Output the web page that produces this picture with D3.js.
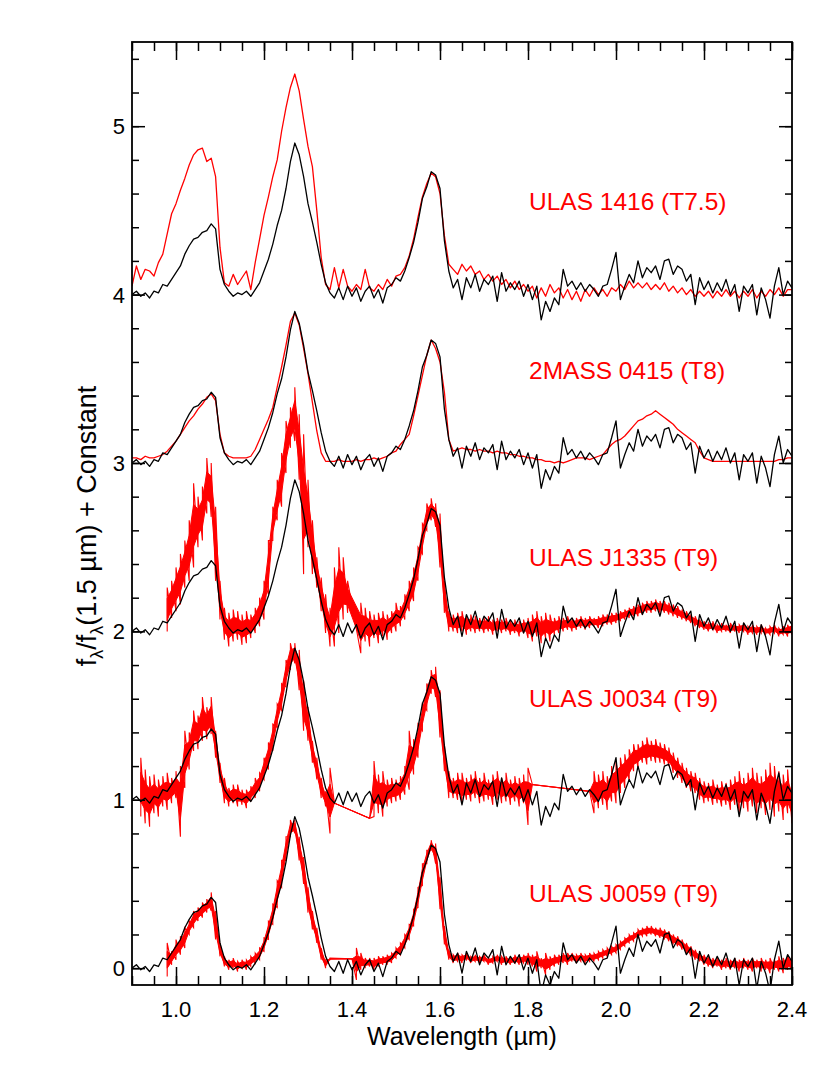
<!DOCTYPE html>
<html>

<head>
  <title>T dwarf spectra</title>
  <script src="https://cdn.jsdelivr.net/npm/d3@7"></script>
  <style>
    html, body { margin: 0; padding: 0; background: #fff; overflow: hidden; }
    svg { display: block; }
    text { font-family: 'Liberation Sans', Arial, Helvetica, sans-serif; }
  </style>
</head>

<body>
  <svg width="830" height="1069" id="mainsvg"></svg>
  <script>
    // wavelength grid of every spectrum, 0.90 .. 2.40 micron in 0.01 steps
    const wave = d3.range(151).map(i => Math.round(900 + i * 10) / 1000);

    // comparison template (black), normalised at 1.5 micron, no offset
    const templateFlux = [
      0.00, 0.02, -0.01, 0.01, -0.02, 0.02, 0.01, 0.06, 0.05, 0.09,
      0.13, 0.17, 0.24, 0.29, 0.33, 0.34, 0.37, 0.38, 0.42, 0.39,
      0.15, 0.06, 0.02, -0.01, 0.01, 0.00, 0.02, -0.01, 0.03, 0.07,
      0.14, 0.21, 0.30, 0.41, 0.50, 0.63, 0.79, 0.90, 0.83, 0.70,
      0.54, 0.43, 0.31, 0.18, 0.07, 0.01, -0.02, 0.04, -0.03, 0.05,
      -0.01, 0.04, -0.04, 0.02, 0.05, -0.02, 0.03, -0.05, 0.04, 0.06,
      0.10, 0.08, 0.14, 0.22, 0.31, 0.43, 0.57, 0.64, 0.73, 0.71,
      0.63, 0.32, 0.14, 0.04, 0.09, -0.03, 0.10, 0.04, 0.12, 0.02,
      0.09, 0.06, 0.11, -0.04, 0.13, 0.02, 0.07, 0.03, 0.08, -0.01,
      0.06, -0.03, 0.05, -0.15, -0.04, -0.10, -0.02, -0.06, 0.15, 0.05,
      0.08, 0.03, 0.07, 0.02, 0.06, 0.03, -0.01, 0.05, 0.06, 0.15,
      0.25, -0.03, 0.05, 0.12, 0.07, 0.20, 0.10, 0.16, 0.13, 0.17,
      0.09, 0.20, 0.21, 0.12, 0.17, 0.15, 0.08, 0.12, -0.06, 0.10,
      0.03, 0.08, 0.01, 0.07, 0.02, 0.09, 0.00, 0.06, -0.10, 0.05,
      0.01, 0.06, -0.12, 0.04, -0.03, -0.14, 0.05, 0.16, 0.00, 0.08,
      0.04
    ];

    // ULAS 1416 (T7.5)
    const ulas1416Flux = [
      0.05, 0.17, 0.09, 0.15, 0.14, 0.11, 0.19, 0.24, 0.36, 0.48,
      0.54, 0.62, 0.69, 0.77, 0.83, 0.86, 0.87, 0.79, 0.81, 0.70,
      0.28, 0.07, 0.05, 0.12, 0.06, 0.10, 0.14, 0.03, 0.19, 0.33,
      0.47, 0.58, 0.70, 0.80, 0.97, 1.11, 1.23, 1.31, 1.21, 1.04,
      0.88, 0.76, 0.50, 0.22, 0.06, 0.03, 0.16, 0.04, 0.15, 0.05,
      0.02, 0.06, 0.03, 0.15, 0.04, 0.02, 0.06, 0.03, 0.09, 0.05,
      0.11, 0.12, 0.16, 0.23, 0.33, 0.46, 0.58, 0.66, 0.72, 0.70,
      0.60, 0.35, 0.18, 0.15, 0.12, 0.18, 0.14, 0.17, 0.12, 0.14,
      0.09, 0.12, 0.08, 0.11, 0.06, 0.09, 0.04, 0.08, 0.03, 0.06,
      0.02, 0.05, -0.02, 0.04, -0.01, 0.06, 0.01, 0.04, -0.02, 0.03,
      -0.03, 0.02, -0.04, 0.03, -0.01, 0.04, 0.00, 0.03, -0.01, 0.04,
      0.02, 0.06, 0.03, 0.08, 0.04, 0.07, 0.04, 0.07, 0.03, 0.06,
      0.03, 0.07, 0.02, 0.05, 0.01, 0.04, 0.00, 0.03, -0.01, 0.02,
      -0.01, 0.02, -0.02, 0.02, -0.01, 0.03, -0.01, 0.02, -0.02, 0.02,
      -0.01, 0.03, -0.02, 0.02, -0.01, 0.03, 0.00, 0.04, -0.01, 0.03,
      0.03
    ];

    // 2MASS 0415 (T8)
    const mass0415Flux = [
      0.03, 0.03, 0.02, 0.04, 0.03, 0.03, 0.04, 0.05, 0.07, 0.10,
      0.13, 0.17, 0.21, 0.25, 0.28, 0.32, 0.35, 0.39, 0.41, 0.37,
      0.17, 0.06, 0.04, 0.03, 0.03, 0.03, 0.03, 0.04, 0.08, 0.14,
      0.20, 0.26, 0.33, 0.45, 0.57, 0.70, 0.84, 0.89, 0.82, 0.68,
      0.53, 0.36, 0.19, 0.06, 0.01, 0.01, 0.01, 0.02, 0.01, 0.01,
      0.01, 0.02, 0.01, 0.02, 0.02, 0.03, 0.02, 0.03, 0.04, 0.06,
      0.07, 0.11, 0.14, 0.17, 0.28, 0.40, 0.52, 0.64, 0.73, 0.68,
      0.60, 0.42, 0.14, 0.07, 0.08, 0.09, 0.08, 0.08, 0.07, 0.08,
      0.07, 0.07, 0.06, 0.07, 0.06, 0.06, 0.05, 0.05, 0.04, 0.04,
      0.03, 0.03, 0.02, 0.02, 0.01, 0.01, 0.00, 0.01, 0.00, 0.01,
      0.02, 0.03, 0.03, 0.03, 0.02, 0.03, 0.04, 0.05, 0.08, 0.11,
      0.13, 0.14, 0.16, 0.19, 0.22, 0.25, 0.26, 0.28, 0.29, 0.31,
      0.29, 0.27, 0.25, 0.23, 0.20, 0.18, 0.16, 0.14, 0.12, 0.07,
      0.03, 0.02, 0.01, 0.01, 0.01, 0.01, 0.01, 0.01, 0.01, 0.01,
      0.01, 0.01, 0.01, 0.01, 0.01, 0.01, 0.01, 0.02, 0.02, 0.03,
      0.03
    ];

    // noisy spectra: lower / upper edge of the scatter, null = no data
    const j1335Lo = [
      null, null, null, null, null, null, null, null, 0.00, 0.08,
      0.12, 0.16, 0.26, 0.30, 0.38, 0.50, 0.54, 0.70, 0.68, 0.30,
      0.07, -0.05, -0.09, -0.06, -0.05, -0.08, -0.07, -0.04, -0.01, 0.03,
      0.07, 0.22, 0.54, 0.66, 0.74, 0.94, 1.09, 1.13, 0.90, 0.34,
      0.50, 0.34, 0.26, 0.12, -0.01, -0.09, -0.09, -0.01, 0.07, 0.11,
      null, null, -0.13, -0.06, -0.09, -0.04, -0.07, -0.03, -0.05, -0.01,
      0.00, 0.03, 0.07, 0.12, 0.18, 0.30, 0.46, 0.60, 0.66, 0.62,
      0.38, 0.11, 0.00, 0.00, -0.01, 0.00, -0.02, 0.00, -0.01, 0.00,
      -0.01, 0.00, -0.02, 0.00, -0.01, 0.00, -0.02, -0.01, -0.03, -0.01,
      -0.04, -0.06, -0.03, -0.07, -0.04, -0.06, -0.02, -0.01, 0.00, 0.01,
      0.00, 0.01, 0.02, 0.01, 0.02, 0.03, 0.02, 0.03, 0.04, 0.04,
      0.05, 0.06, 0.07, 0.08, 0.09, 0.09, 0.10, 0.11, 0.11, 0.12,
      0.11, 0.11, 0.10, 0.09, 0.08, 0.07, 0.06, 0.05, 0.03, 0.02,
      0.01, 0.00, 0.01, -0.01, 0.00, 0.00, -0.01, 0.00, -0.01, 0.00,
      -0.02, -0.01, -0.02, -0.01, -0.02, -0.02, -0.01, -0.03, -0.02, -0.03,
      -0.02
    ];
    const j1335Hi = [
      null, null, null, null, null, null, null, null, 0.26, 0.30,
      0.38, 0.46, 0.54, 0.66, 0.88, 0.80, 0.86, 1.03, 1.00, 0.74,
      0.30, 0.14, 0.11, 0.13, 0.12, 0.10, 0.12, 0.10, 0.14, 0.20,
      0.30, 0.54, 0.74, 0.90, 1.06, 1.25, 1.33, 1.45, 1.29, 1.17,
      0.90, 0.66, 0.44, 0.32, 0.22, 0.14, 0.38, 0.50, 0.44, 0.30,
      null, null, 0.17, 0.14, 0.12, 0.10, 0.11, 0.12, 0.10, 0.12,
      0.17, 0.15, 0.22, 0.30, 0.38, 0.50, 0.64, 0.76, 0.79, 0.76,
      0.70, 0.30, 0.12, 0.10, 0.11, 0.12, 0.09, 0.10, 0.09, 0.08,
      0.08, 0.09, 0.07, 0.08, 0.07, 0.08, 0.06, 0.07, 0.06, 0.07,
      0.08, 0.10, 0.12, 0.09, 0.11, 0.10, 0.08, 0.09, 0.08, 0.09,
      0.08, 0.08, 0.09, 0.08, 0.09, 0.08, 0.09, 0.10, 0.10, 0.11,
      0.11, 0.12, 0.13, 0.14, 0.15, 0.16, 0.17, 0.18, 0.18, 0.19,
      0.18, 0.18, 0.17, 0.16, 0.15, 0.13, 0.12, 0.10, 0.09, 0.07,
      0.06, 0.05, 0.06, 0.04, 0.05, 0.04, 0.05, 0.04, 0.04, 0.05,
      0.03, 0.04, 0.03, 0.04, 0.02, 0.03, 0.04, 0.02, 0.03, 0.04,
      0.05
    ];

    const j0034Lo = [
      null, null, -0.10, -0.14, -0.16, -0.08, -0.10, -0.04, -0.06, -0.02,
      0.01, -0.22, 0.07, 0.18, 0.29, 0.30, 0.35, 0.36, 0.39, 0.25,
      0.10, -0.02, -0.04, -0.02, -0.04, -0.03, -0.05, -0.01, 0.01, 0.05,
      0.12, 0.18, 0.29, 0.43, 0.53, 0.67, 0.77, 0.81, 0.65, 0.41,
      0.35, 0.22, 0.12, 0.01, -0.04, -0.20, -0.02, null, null, null,
      null, null, null, null, -0.11, -0.10, -0.08, -0.10, -0.04, -0.02,
      -0.01, 0.00, 0.03, 0.06, 0.15, 0.25, 0.41, 0.53, 0.63, 0.61,
      0.37, 0.17, 0.01, 0.01, 0.00, -0.02, 0.00, -0.01, 0.01, -0.02,
      -0.01, 0.00, -0.03, 0.00, -0.02, -0.01, -0.03, -0.01, -0.04, -0.02,
      -0.15, 0.09, null, null, null, null, null, null, null, null,
      null, null, null, null, 0.05, -0.08, -0.05, -0.03, -0.06, -0.01,
      -0.02, 0.04, 0.07, 0.11, 0.17, 0.19, 0.22, 0.21, 0.23, 0.22,
      0.22, 0.21, 0.20, 0.16, 0.13, 0.10, 0.07, 0.05, 0.04, 0.00,
      -0.02, -0.01, -0.03, -0.02, -0.04, -0.03, -0.06, -0.03, -0.08, -0.05,
      -0.07, -0.04, -0.08, -0.05, -0.09, -0.06, -0.10, -0.07, -0.12, -0.08,
      -0.14
    ];
    const j0034Hi = [
      null, null, 0.25, 0.18, 0.14, 0.15, 0.12, 0.14, 0.16, 0.13,
      0.17, 0.20, 0.41, 0.40, 0.53, 0.50, 0.61, 0.55, 0.61, 0.41,
      0.22, 0.13, 0.07, 0.09, 0.09, 0.06, 0.06, 0.08, 0.13, 0.16,
      0.25, 0.34, 0.45, 0.57, 0.69, 0.83, 0.93, 0.93, 0.89, 0.71,
      0.55, 0.35, 0.25, 0.13, 0.05, 0.19, -0.02, null, null, null,
      null, null, null, null, -0.11, 0.23, 0.15, 0.17, 0.12, 0.13,
      0.12, 0.14, 0.20, 0.41, 0.36, 0.45, 0.57, 0.69, 0.77, 0.79,
      0.65, 0.33, 0.17, 0.13, 0.16, 0.16, 0.13, 0.15, 0.17, 0.13,
      0.16, 0.12, 0.15, 0.17, 0.13, 0.16, 0.12, 0.14, 0.13, 0.15,
      0.19, 0.09, null, null, null, null, null, null, null, null,
      null, null, null, null, 0.05, 0.17, 0.15, 0.17, 0.14, 0.20,
      0.23, 0.25, 0.27, 0.30, 0.33, 0.33, 0.35, 0.37, 0.35, 0.36,
      0.34, 0.33, 0.31, 0.28, 0.25, 0.22, 0.19, 0.17, 0.16, 0.13,
      0.11, 0.10, 0.12, 0.09, 0.11, 0.10, 0.12, 0.14, 0.17, 0.13,
      0.16, 0.19, 0.16, 0.14, 0.18, 0.22, 0.20, 0.17, 0.15, 0.18,
      0.10
    ];

    const j0059Lo = [
      null, null, null, null, null, null, null, null, -0.05, 0.02,
      0.05, 0.08, 0.12, 0.20, 0.24, 0.28, 0.30, 0.33, 0.34, 0.17,
      0.07, 0.01, -0.01, 0.00, -0.02, 0.00, -0.01, 0.01, 0.03, 0.05,
      0.10, 0.17, 0.26, 0.36, 0.48, 0.64, 0.78, 0.80, 0.64, 0.50,
      0.33, 0.23, 0.15, 0.05, 0.00, 0.05, null, null, null, null,
      0.055, -0.07, -0.01, 0.00, 0.01, -0.01, 0.01, 0.02, 0.02, 0.03,
      0.06, 0.08, 0.12, 0.17, 0.25, 0.36, 0.49, 0.62, 0.70, 0.62,
      0.35, 0.14, 0.05, 0.03, 0.04, 0.03, 0.05, 0.03, 0.04, 0.03,
      0.04, 0.02, 0.03, 0.04, 0.02, 0.03, 0.02, 0.03, 0.02, 0.03,
      0.02, 0.01, -0.02, 0.00, -0.04, -0.01, 0.01, 0.02, 0.03, 0.02,
      0.04, 0.03, 0.04, 0.03, 0.04, 0.04, 0.05, 0.06, 0.07, 0.08,
      0.09, 0.11, 0.13, 0.15, 0.16, 0.18, 0.19, 0.19, 0.20, 0.19,
      0.18, 0.17, 0.16, 0.14, 0.13, 0.11, 0.09, 0.07, 0.05, 0.04,
      0.02, 0.01, 0.00, 0.01, -0.01, 0.00, -0.01, 0.00, -0.02, 0.00,
      -0.01, -0.02, 0.00, -0.02, -0.01, -0.03, -0.01, -0.02, -0.03, -0.01,
      -0.02
    ];
    const j0059Hi = [
      null, null, null, null, null, null, null, null, 0.15, 0.10,
      0.17, 0.19, 0.24, 0.28, 0.34, 0.36, 0.39, 0.41, 0.45, 0.34,
      0.15, 0.07, 0.05, 0.06, 0.04, 0.05, 0.05, 0.07, 0.09, 0.12,
      0.18, 0.28, 0.38, 0.52, 0.64, 0.78, 0.88, 0.88, 0.78, 0.66,
      0.48, 0.34, 0.24, 0.12, 0.05, 0.06, null, null, null, null,
      0.055, 0.12, 0.09, 0.06, 0.06, 0.06, 0.07, 0.07, 0.08, 0.09,
      0.12, 0.15, 0.20, 0.26, 0.35, 0.48, 0.62, 0.70, 0.76, 0.74,
      0.54, 0.25, 0.11, 0.08, 0.09, 0.08, 0.09, 0.07, 0.08, 0.07,
      0.08, 0.06, 0.07, 0.08, 0.07, 0.07, 0.06, 0.08, 0.07, 0.08,
      0.09, 0.08, 0.10, 0.06, 0.09, 0.07, 0.08, 0.08, 0.09, 0.09,
      0.09, 0.08, 0.09, 0.08, 0.09, 0.09, 0.10, 0.11, 0.12, 0.13,
      0.14, 0.16, 0.18, 0.20, 0.21, 0.23, 0.24, 0.25, 0.25, 0.24,
      0.24, 0.23, 0.22, 0.20, 0.19, 0.17, 0.15, 0.13, 0.11, 0.09,
      0.08, 0.07, 0.06, 0.06, 0.05, 0.06, 0.05, 0.06, 0.05, 0.06,
      0.05, 0.06, 0.05, 0.06, 0.05, 0.06, 0.05, 0.07, 0.06, 0.08,
      0.07
    ];

    const objectNames = ['ULAS 1416 (T7.5)', '2MASS 0415 (T8)', 'ULAS J1335 (T9)', 'ULAS J0034 (T9)', 'ULAS J0059 (T9)'];
    const offsets = [4, 3, 2, 1, 0];
    const xMajorTicks = [1.0, 1.2, 1.4, 1.6, 1.8, 2.0, 2.2, 2.4];
    const yMajorTicks = [0, 1, 2, 3, 4, 5];

    // layout
    const labelBase = [4.50, 3.50, 2.39, 1.55, 0.39];   // label baselines, data units
    const svg = d3.select('#mainsvg');
    const width = +svg.attr('width');
    const height = +svg.attr('height');
    const margin = { top: 42, right: 38, bottom: 84, left: 132 };
    const innerWidth = width - margin.left - margin.right;
    const innerHeight = height - margin.top - margin.bottom;

    const xScale = d3.scaleLinear().domain([0.9, 2.4]).range([0, innerWidth]);
    const yScale = d3.scaleLinear().domain([-0.1, 5.5]).range([innerHeight, 0]);

    const g = svg.append('g').attr('transform', `translate(${margin.left}, ${margin.top})`);

    g.append('clipPath').attr('id', 'plotclip')
      .append('rect').attr('width', innerWidth).attr('height', innerHeight);

    const plot = g.append('g').attr('clip-path', 'url(#plotclip)');

    const line = d3.line().x(d => xScale(d.w)).y(d => yScale(d.f));
    // solid core covers the middle half of the scatter
    const core = d3.area().x(d => xScale(d.w))
      .y0(d => yScale(d.lo + (d.hi - d.lo) * 0.25))
      .y1(d => yScale(d.hi - (d.hi - d.lo) * 0.25));

    const asLine = (flux, off) => wave.map((w, i) => ({ w: w, f: flux[i] }))
      .filter(d => d.f !== null)
      .map(d => ({ w: d.w, f: d.f + off }));
    const asBand = (lo, hi, off) => wave.map((w, i) => ({ w: w, lo: lo[i], hi: hi[i] }))
      .filter(d => d.lo !== null)
      .map(d => ({ w: d.w, lo: d.lo + off, hi: d.hi + off }));
    // saw-tooth through the low and high edge of each sample
    const sawTooth = band => band.flatMap(d => [{ w: d.w, f: d.lo }, { w: d.w, f: d.hi }]);

    // red object spectra
    [ulas1416Flux, mass0415Flux].forEach((flux, i) => {
      plot.append('path')
        .attr('d', line(asLine(flux, offsets[i])))
        .attr('fill', 'none')
        .attr('stroke', '#ff0000')
        .attr('stroke-width', 1.3)
        .attr('stroke-linejoin', 'round');
    });
    [[j1335Lo, j1335Hi], [j0034Lo, j0034Hi], [j0059Lo, j0059Hi]].forEach((pair, k) => {
      const band = asBand(pair[0], pair[1], offsets[k + 2]);
      plot.append('path')
        .attr('d', core(band))
        .attr('fill', '#ff0000')
        .attr('stroke', '#ff0000')
        .attr('stroke-width', 1);
      plot.append('path')
        .attr('d', line(sawTooth(band)))
        .attr('fill', 'none')
        .attr('stroke', '#ff0000')
        .attr('stroke-width', 1.1);
    });

    // black template drawn over each object
    offsets.forEach(off => {
      plot.append('path')
        .attr('d', line(asLine(templateFlux, off)))
        .attr('fill', 'none')
        .attr('stroke', '#000')
        .attr('stroke-width', 1.3)
        .attr('stroke-linejoin', 'round');
    });

    // object labels
    objectNames.forEach((name, i) => {
      g.append('text')
        .attr('x', xScale(1.8) + 1)
        .attr('y', yScale(labelBase[i]))
        .attr('fill', '#ff0000')
        .attr('font-size', 24.5)
        .text(name);
    });

    // tick marks pointing inward on all four sides
    const xMinor = d3.range(0.9, 2.4001, 0.05);
    const yMinor = d3.range(0, 5.41, 0.2);

    const tickSets = [
      g.append('g').attr('transform', `translate(0, ${innerHeight})`)
        .call(d3.axisBottom(xScale).tickValues(xMajorTicks).tickSize(-18)),
      g.append('g').attr('transform', `translate(0, ${innerHeight})`)
        .call(d3.axisBottom(xScale).tickValues(xMinor).tickSize(-9)),
      g.append('g').call(d3.axisTop(xScale).tickValues(xMajorTicks).tickSize(-18)),
      g.append('g').call(d3.axisTop(xScale).tickValues(xMinor).tickSize(-9)),
      g.append('g').call(d3.axisLeft(yScale).tickValues(yMajorTicks).tickSize(-13)),
      g.append('g').call(d3.axisLeft(yScale).tickValues(yMinor).tickSize(-7)),
      g.append('g').attr('transform', `translate(${innerWidth}, 0)`)
        .call(d3.axisRight(yScale).tickValues(yMajorTicks).tickSize(-13)),
      g.append('g').attr('transform', `translate(${innerWidth}, 0)`)
        .call(d3.axisRight(yScale).tickValues(yMinor).tickSize(-7))
    ];
    tickSets.forEach(axisG => {
      axisG.selectAll('text').remove();
      axisG.select('.domain').remove();
      axisG.selectAll('.tick line').attr('stroke', '#000').attr('stroke-width', 1.5);
    });

    // tick labels
    g.append('g').selectAll('text')
      .data(xMajorTicks)
      .enter()
      .append('text')
      .attr('x', d => xScale(d))
      .attr('y', innerHeight + 32)
      .attr('text-anchor', 'middle')
      .attr('font-size', 22)
      .text(d3.format('.1f'));
    g.append('g').selectAll('text')
      .data(yMajorTicks)
      .enter()
      .append('text')
      .attr('x', -7)
      .attr('y', d => yScale(d) + 8)
      .attr('text-anchor', 'end')
      .attr('font-size', 22)
      .text(d3.format('d'));

    g.append('rect')
      .attr('width', innerWidth).attr('height', innerHeight)
      .attr('fill', 'none').attr('stroke', '#000').attr('stroke-width', 1.8);

    // axis titles
    g.append('text')
      .attr('x', innerWidth / 2)
      .attr('y', innerHeight + 60)
      .attr('text-anchor', 'middle')
      .attr('font-size', 25)
      .text('Wavelength (µm)');

    const yTitle = g.append('text')
      .attr('transform', `translate(-36, 484) rotate(-90)`)
      .attr('text-anchor', 'middle')
      .attr('font-size', 27);
    yTitle.append('tspan').text('f');
    yTitle.append('tspan').attr('font-size', 18).attr('dy', 7).text('λ');
    yTitle.append('tspan').attr('dy', -7).text('/f');
    yTitle.append('tspan').attr('font-size', 18).attr('dy', 7).text('λ');
    yTitle.append('tspan').attr('dy', -7).text('(1.5 µm) + Constant');
  </script>
</body>

</html>
